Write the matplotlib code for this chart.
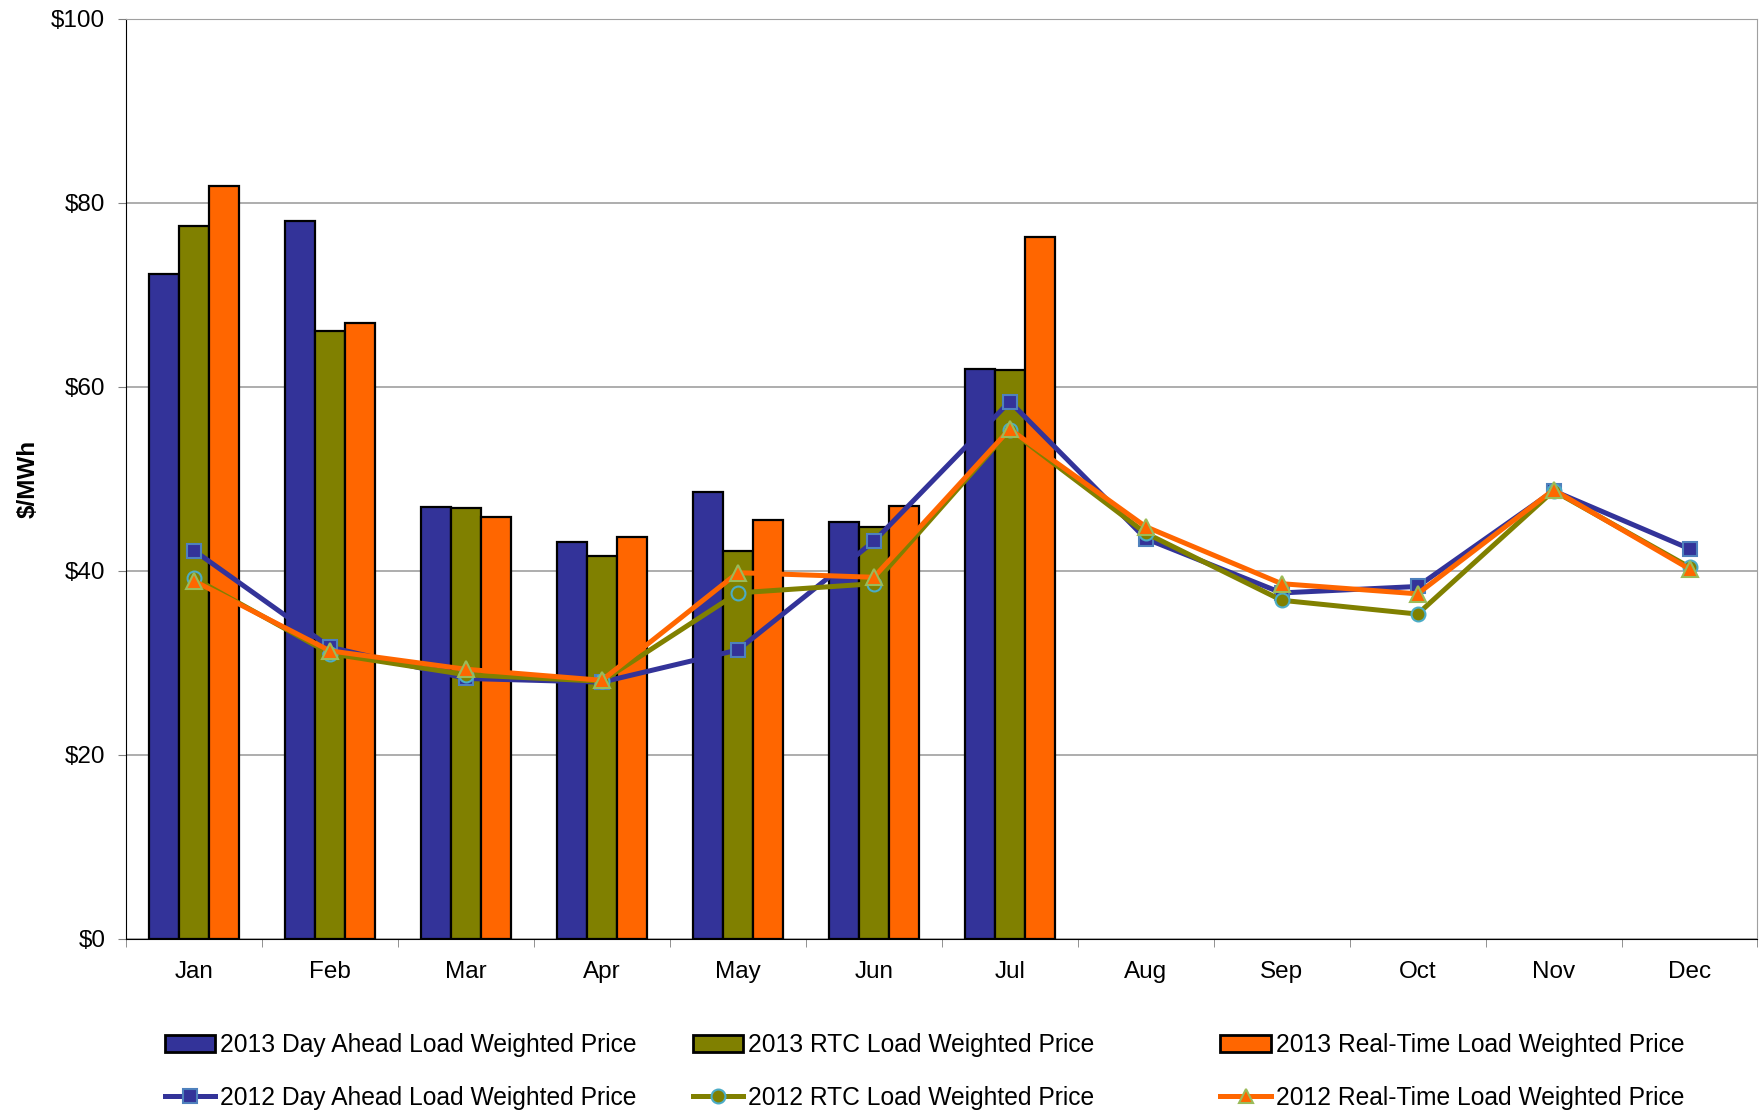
import numpy as np
import matplotlib
matplotlib.use("Agg")
import matplotlib.pyplot as plt
from matplotlib.patches import Patch
from matplotlib.lines import Line2D

plt.rcParams['font.family'] = ['Liberation Sans', 'DejaVu Sans']

months = ['Jan', 'Feb', 'Mar', 'Apr', 'May', 'Jun', 'Jul', 'Aug', 'Sep', 'Oct', 'Nov', 'Dec']

# 2013 bars (Jan-Jul only)
da_2013 = [72.3, 78.0, 46.9, 43.1, 48.6, 45.3, 61.9]
rtc_2013 = [77.5, 66.1, 46.8, 41.6, 42.2, 44.8, 61.8]
rt_2013 = [81.8, 66.9, 45.9, 43.7, 45.5, 47.0, 76.3]

# 2012 lines
da_2012 = [42.2, 31.7, 28.3, 27.9, 31.4, 43.2, 58.4, 43.5, 37.6, 38.3, 48.7, 42.4]
rtc_2012 = [39.2, 31.0, 28.7, 28.0, 37.6, 38.6, 55.3, 44.1, 36.8, 35.3, 48.7, 40.4]
rt_2012 = [38.9, 31.3, 29.3, 28.1, 39.8, 39.3, 55.4, 44.8, 38.6, 37.5, 48.8, 40.2]

c_da = '#333399'
c_rtc = '#808000'
c_rt = '#FF6600'

fig = plt.figure(figsize=(17.61, 11.11), dpi=100)
ax = fig.add_axes([0.0716, 0.155, 0.9264, 0.828])

x = np.arange(len(months))
xb = np.arange(len(da_2013))
w = 0.22
ax.bar(xb - w, da_2013, w, color=c_da, edgecolor='black', linewidth=1.6, zorder=2)
ax.bar(xb, rtc_2013, w, color=c_rtc, edgecolor='black', linewidth=1.6, zorder=2)
ax.bar(xb + w, rt_2013, w, color=c_rt, edgecolor='black', linewidth=1.6, zorder=2)

ax.plot(x, da_2012, color=c_da, lw=3.6, marker='s', ms=10, mfc=c_da,
        mec='#4F81BD', mew=1.5, zorder=3)
ax.plot(x, rtc_2012, color=c_rtc, lw=3.6, marker='o', ms=10, mfc=c_rtc,
        mec='#4BACC6', mew=1.5, zorder=4)
ax.plot(x, rt_2012, color=c_rt, lw=3.6, marker='^', ms=11, mfc=c_rt,
        mec='#9BBB59', mew=1.5, zorder=5)

ax.set_xlim(-0.5, 11.5)
ax.set_ylim(0, 100)
ax.set_yticks(np.arange(0, 101, 20))
ax.set_yticklabels(['$%d' % v for v in range(0, 101, 20)])
ax.yaxis.grid(True, color='#A0A0A0', lw=1.2, zorder=0)
ax.set_axisbelow(True)

ax.set_xticks(x)
ax.set_xticklabels(months)
ax.set_xticks(np.arange(-0.5, 12, 1), minor=True)
ax.tick_params(axis='x', which='major', length=0, pad=16, labelsize=17.5)
ax.tick_params(axis='x', which='minor', length=6, color='#808080', direction='out')
ax.tick_params(axis='y', length=6, color='#808080', pad=9, labelsize=17.5)

ax.spines['left'].set_color('black')
ax.spines['bottom'].set_color('black')
ax.spines['top'].set_color('#A0A0A0')
ax.spines['right'].set_color('#A0A0A0')

ax.set_ylabel('$/MWh', fontsize=17.5, fontweight='bold', labelpad=8)

bar_labels = ['2013 Day Ahead Load Weighted Price', '2013 RTC Load Weighted Price',
              '2013 Real-Time Load Weighted Price']
line_labels = ['2012 Day Ahead Load Weighted Price', '2012 RTC Load Weighted Price',
               '2012 Real-Time Load Weighted Price']
cols = [c_da, c_rtc, c_rt]
mk = [('s', '#4F81BD'), ('o', '#4BACC6'), ('^', '#9BBB59')]
xpos = [0.0937, 0.3935, 0.693]
for i in range(3):
    h1 = Patch(facecolor=cols[i], edgecolor='black', linewidth=2)
    h2 = Line2D([], [], color=cols[i], lw=3.6, marker=mk[i][0], ms=10,
                mfc=cols[i], mec=mk[i][1], mew=1.5)
    fig.legend([h1, h2], [bar_labels[i], line_labels[i]], loc='upper left',
               bbox_to_anchor=(xpos[i], 0.07), frameon=False, fontsize=17.7,
               handlelength=2.05, handletextpad=0.2, labelspacing=1.17,
               borderaxespad=0, borderpad=0)

fig.savefig('out.png', dpi=100)
